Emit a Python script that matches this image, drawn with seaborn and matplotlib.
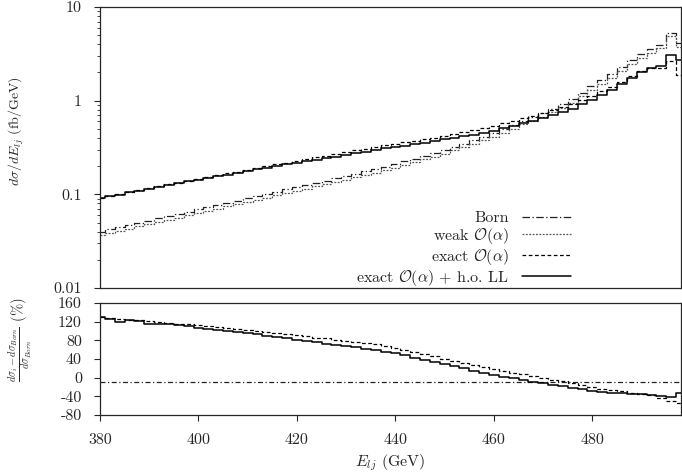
import numpy as np
import pandas as pd
import seaborn as sns
import matplotlib
matplotlib.use("Agg")
import matplotlib.pyplot as plt
from matplotlib.ticker import LogLocator, NullFormatter

# bin centres (GeV), 2 GeV bins
e_lj = list(range(380, 500, 2))

# Born distribution dsigma/dE (fb/GeV)
born = [0.0400, 0.0422, 0.0446, 0.0471, 0.0497, 0.0525, 0.0555, 0.0586, 0.0618, 0.0653,
        0.0690, 0.0728, 0.0769, 0.0812, 0.0858, 0.0906, 0.0956, 0.101, 0.107, 0.113,
        0.119, 0.126, 0.133, 0.140, 0.148, 0.157, 0.166, 0.176, 0.186, 0.198,
        0.211, 0.225, 0.241, 0.258, 0.277, 0.298, 0.322, 0.348, 0.378, 0.412,
        0.450, 0.500, 0.550, 0.610, 0.670, 0.740, 0.820, 0.920, 1.04, 1.22,
        1.42, 1.65, 1.92, 2.27, 2.70, 3.15, 3.55, 3.95, 5.30, 4.10]

# relative corrections (%) w.r.t. Born
weak_rel = [-8.6, -8.6, -8.6, -8.6, -8.6, -8.6, -8.6, -8.6, -8.6, -8.6,
            -8.6, -8.6, -8.6, -8.6, -8.6, -8.6, -8.6, -8.6, -8.6, -8.6,
            -8.6, -8.6, -8.6, -8.6, -8.6, -8.6, -8.6, -8.6, -8.6, -8.6,
            -8.6, -8.6, -8.6, -8.6, -8.6, -8.6, -8.6, -8.6, -8.6, -8.6,
            -8.6, -8.6, -8.6, -8.6, -8.6, -8.6, -8.6, -8.6, -8.6, -8.6,
            -8.6, -8.6, -8.6, -8.6, -8.6, -8.6, -8.6, -8.6, -8.6, -8.6]
exact_rel = [130, 128, 126, 124, 122.5, 121, 119, 117.5, 116, 114,
             112, 110, 108, 106, 104, 102, 100, 97.5, 95.5, 93,
             91, 88.5, 86, 84, 81.5, 79, 77, 74.5, 71.5, 68,
             64, 59.5, 55, 50.5, 46, 41, 36.5, 32, 27.5, 23,
             19, 15, 11, 7, 3.5, 0, -4, -8, -12, -16.5,
             -21, -24, -27, -29.5, -32, -34, -37, -43, -50, -54]
full_rel = [131, 126, 119, 123, 121, 115, 116, 115, 113, 110,
            107, 105, 103, 100, 98, 96, 93, 90, 88, 85,
            81, 78, 76, 73, 71, 68, 66, 62, 59, 56,
            52, 47.5, 43, 38.5, 34, 29.5, 25, 20, 15, 10,
            5.5, 2, -1.5, -5, -8.5, -12, -15, -18, -21.5, -25,
            -28, -30, -32, -33.5, -35, -36, -37.5, -40, -42, -33.5]

labels = ["Born", r"weak $\mathcal{O}(\alpha)$", r"exact $\mathcal{O}(\alpha)$",
          r"exact $\mathcal{O}(\alpha)$ + h.o. LL"]

born_a = np.array(born)
top = {
    labels[0]: born_a,
    labels[1]: born_a * (1 + np.array(weak_rel) / 100),
    labels[2]: born_a * (1 + np.array(exact_rel) / 100),
    labels[3]: born_a * (1 + np.array(full_rel) / 100),
}
bottom = {
    labels[1]: weak_rel,
    labels[2]: exact_rel,
    labels[3]: full_rel,
}

dashdot = dict(ls=(0, (6, 2, 1, 2)), lw=0.9, color="#222222")
styles = {
    labels[0]: dashdot,
    labels[1]: dict(ls=(0, (1.5, 1.2)), lw=0.9, color="#555555"),
    labels[2]: dict(ls=(0, (3, 2)), lw=0.9, color="black"),
    labels[3]: dict(ls="-", lw=1.1, color="black"),
}
# the weak ratio in the lower panel is drawn dash-dotted
bottom_styles = dict(styles)
bottom_styles[labels[1]] = dict(dashdot, ls=(0, (4, 2, 1, 2)))

sns.set_style("ticks")
plt.rcParams["font.family"] = ["cmr10"]
plt.rcParams["mathtext.fontset"] = "cm"
plt.rcParams["axes.unicode_minus"] = False
plt.rcParams["font.size"] = 11.5
plt.rcParams["axes.linewidth"] = 0.9

fig = plt.figure(figsize=(6.82, 4.74), dpi=100)
ax1 = fig.add_axes([0.1466, 0.3924, 0.852, 0.5928])
ax2 = fig.add_axes([0.1466, 0.1245, 0.852, 0.2363])

for name, vals in top.items():
    df = pd.DataFrame({"E": e_lj, "v": vals})
    sns.lineplot(data=df, x="E", y="v", ax=ax1, drawstyle="steps-mid",
                 label=name, **styles[name])

for name, vals in bottom.items():
    df = pd.DataFrame({"E": e_lj, "v": vals})
    sns.lineplot(data=df, x="E", y="v", ax=ax2, drawstyle="steps-mid",
                 legend=False, **bottom_styles[name])

# top panel
ax1.set_yscale("log")
ax1.set_xlim(380, 498)
ax1.set_ylim(0.01, 10)
ax1.set_yticks([0.01, 0.1, 1, 10], labels=["0.01", "0.1", "1", "10"])
ax1.yaxis.set_minor_locator(LogLocator(base=10, subs=np.arange(2, 10)))
ax1.yaxis.set_minor_formatter(NullFormatter())
ax1.tick_params(axis="x", bottom=False, labelbottom=False)
ax1.tick_params(axis="y", which="major", direction="out", length=4, width=0.8, pad=9)
ax1.tick_params(axis="y", which="minor", direction="out", length=2.3, width=0.6)
ax1.set_xlabel("")
ax1.set_ylabel(r"$d\sigma/dE_{lj}$ (fb/GeV)", fontsize=10)
ax1.yaxis.set_label_coords(-0.128, 0.56)

leg = ax1.legend(loc="lower right", bbox_to_anchor=(0.836, -0.05), frameon=False,
                 markerfirst=False, handlelength=3.1, handletextpad=0.8,
                 labelspacing=0.05, fontsize=11.5)

# bottom panel
ax2.set_xlim(380, 498)
ax2.set_ylim(-80, 160)
ax2.set_yticks([-80, -40, 0, 40, 80, 120, 160],
               labels=["-80", "-40", "0", "40", "80", "120", "160"])
ax2.set_xticks([380, 400, 420, 440, 460, 480],
               labels=["380", "400", "420", "440", "460", "480"])
ax2.tick_params(direction="out", length=4, width=0.8, pad=9)
ax2.set_xlabel(r"$E_{lj}$ (GeV)", labelpad=4)
ax2.set_ylabel(r"$\frac{d\sigma_i - d\sigma_{Born}}{d\sigma_{Born}}$ (%)", fontsize=10.5)
ax2.yaxis.set_label_coords(-0.112, 0.67)

for ax in (ax1, ax2):
    for s in ax.spines.values():
        s.set_visible(True)

fig.savefig("out.png", dpi=100)
